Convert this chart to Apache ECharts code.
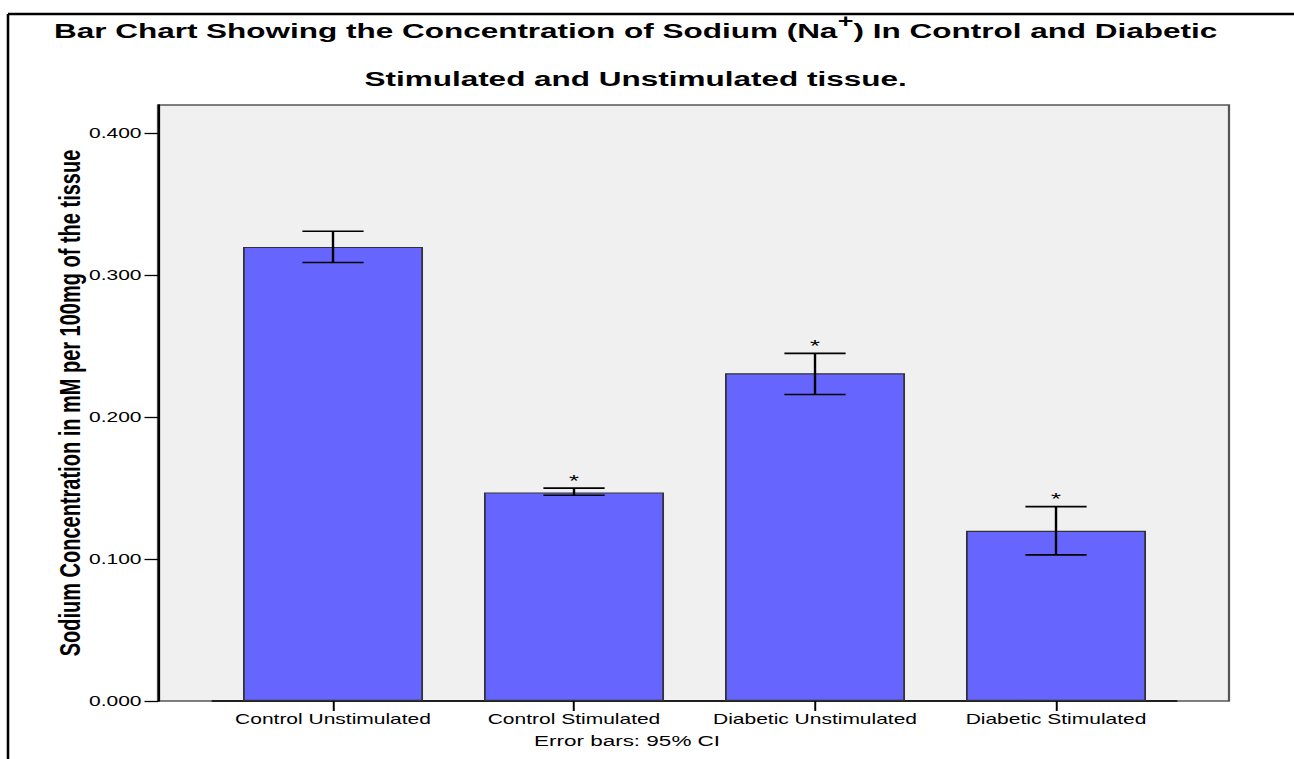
<!DOCTYPE html>
<html>
<head>
<meta charset="utf-8">
<script src="https://cdn.jsdelivr.net/npm/echarts@6/dist/echarts.min.js"></script>
<style>
  html, body { margin: 0; padding: 0; background: #fff; overflow: hidden; }
  #wrap { width: 1294px; height: 759px; overflow: hidden; position: relative; }
  #chart { width: 862.67px; height: 759px; transform: scaleX(1.5); transform-origin: 0 0; }
</style>
</head>
<body>
<div id="wrap"><div id="chart"></div></div>
<script>
// ---- data ----
const categories = ['Control Unstimulated', 'Control Stimulated', 'Diabetic Unstimulated', 'Diabetic Stimulated'];
const means = [0.320, 0.147, 0.231, 0.120];
const ciLower = [0.309, 0.145, 0.216, 0.103];
const ciUpper = [0.331, 0.150, 0.245, 0.137];
const significance = ['', '*', '*', '*'];
const yTicks = [0, 0.1, 0.2, 0.3, 0.4];
const titleLine1 = 'Bar Chart Showing the Concentration of Sodium (Na{sup|+}) In Control and Diabetic';
const titleLine2 = 'Stimulated and Unstimulated tissue.';
const yTitle = 'Sodium Concentration in mM per 100mg of the tissue';
const footNote = 'Error bars: 95% CI';

const FONT = "'Liberation Sans', Arial, Helvetica, sans-serif";
const chart = echarts.init(document.getElementById('chart'), null, { renderer: 'svg' });

const errData = categories.map((c, i) => [i, ciLower[i], ciUpper[i], significance[i]]);

const option = {
  animation: false,
  backgroundColor: '#ffffff',
  textStyle: { fontFamily: FONT },
  grid: [
    { left: 105.33, top: 105, width: 714, height: 596, show: true,
      backgroundColor: '#f0f0f0', borderColor: '#555555', borderWidth: 1.5, containLabel: false },
    { left: 141.67, top: 105, width: 642.67, height: 596, containLabel: false }
  ],
  xAxis: [
    { gridIndex: 0, type: 'value', min: 0, max: 1, show: false },
    { gridIndex: 1, type: 'category', data: categories,
      axisLine: { show: true, lineStyle: { color: '#000', width: 1.5 } },
      axisTick: { show: true, alignWithLabel: true, length: 10, lineStyle: { color: '#000', width: 1.3 } },
      axisLabel: { color: '#000', fontSize: 14, fontFamily: FONT, margin: 11, interval: 0 },
      splitLine: { show: false } }
  ],
  yAxis: [
    { gridIndex: 0, type: 'value', min: 0, max: 0.42, interval: 0.1,
      name: yTitle, nameLocation: 'middle', nameGap: 49, nameRotate: 90, nameMoveOverlap: false,
      nameTextStyle: { fontSize: 20, fontWeight: 'bold', color: '#000', fontFamily: FONT },
      axisLine: { show: true, lineStyle: { color: '#000', width: 1.5 } },
      axisTick: { show: true, length: 9, customValues: yTicks, lineStyle: { color: '#000', width: 1.3 } },
      axisLabel: { color: '#000', fontSize: 14, fontFamily: FONT, margin: 11,
        customValues: yTicks, formatter: v => Number(v).toFixed(3) },
      splitLine: { show: false } },
    { gridIndex: 1, type: 'value', min: 0, max: 0.42, show: false }
  ],
  series: [
    { type: 'bar', xAxisIndex: 1, yAxisIndex: 1, data: means, barCategoryGap: '25.3%',
      itemStyle: { color: '#6666ff', borderColor: '#333333', borderWidth: 1.2 }, z: 2 },
    { type: 'custom', xAxisIndex: 1, yAxisIndex: 1, data: errData, z: 5,
      renderItem: function (params, api) {
        const x = api.value(0);
        const lo = api.coord([x, api.value(1)]);
        const hi = api.coord([x, api.value(2)]);
        const band = api.size([1, 0])[0];
        const hw = band * 0.127;
        const st = { stroke: '#000', lineWidth: 1.6 };
        const children = [
          { type: 'line', shape: { x1: hi[0], y1: hi[1], x2: lo[0], y2: lo[1] }, style: st },
          { type: 'line', shape: { x1: hi[0] - hw, y1: hi[1], x2: hi[0] + hw, y2: hi[1] }, style: st },
          { type: 'line', shape: { x1: lo[0] - hw, y1: lo[1], x2: lo[0] + hw, y2: lo[1] }, style: st }
        ];
        const sig = api.value(3);
        if (sig) {
          children.push({ type: 'text', x: hi[0], y: hi[1] - 7,
            style: { text: String(sig), fill: '#000', font: '17px ' + FONT, align: 'center', verticalAlign: 'middle' } });
        }
        return { type: 'group', children: children };
      } }
  ],
  graphic: [
    { type: 'line', shape: { x1: 5.33, y1: 14, x2: 900, y2: 14 }, style: { stroke: '#000', lineWidth: 2.3 }, z: 10 },
    { type: 'line', shape: { x1: 5.33, y1: 14, x2: 5.33, y2: 800 }, style: { stroke: '#000', lineWidth: 1.7 }, z: 10 },
    { type: 'text', x: 423.7, y: 6.5, z: 10,
      style: { text: titleLine1 + '\n' + titleLine2, align: 'center', verticalAlign: 'top',
        font: 'bold 21px ' + FONT, fill: '#000', lineHeight: 48,
        rich: { sup: { fontSize: 18, fontWeight: 'bold', fontFamily: FONT, fill: '#000', verticalAlign: 'top', padding: [5, 0, 0, 0] } } } },
    { type: 'text', x: 418, y: 741, z: 10,
      style: { text: footNote, align: 'center', verticalAlign: 'middle', font: '15px ' + FONT, fill: '#000' } }
  ]
};
chart.setOption(option);
</script>
</body>
</html>
